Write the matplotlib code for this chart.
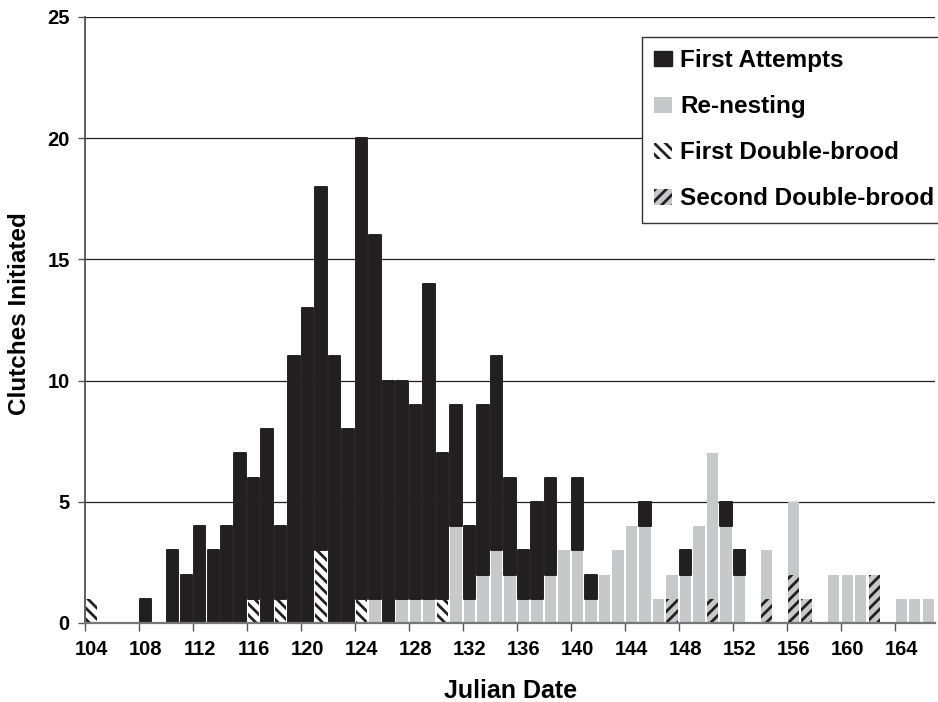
import matplotlib
matplotlib.use("Agg")
import matplotlib.pyplot as plt
from matplotlib.patches import Patch
import numpy as np

plt.rcParams['font.family'] = ['Liberation Sans', 'DejaVu Sans']
plt.rcParams['font.weight'] = 'bold'
plt.rcParams['hatch.linewidth'] = 2.0
plt.rcParams['hatch.color'] = '#231f20'

days = list(range(104, 167))
first_attempts = [0, 0, 0, 0, 1, 0, 3, 2, 4, 3, 4, 7, 5, 8, 3, 11, 13, 15, 11, 8,
                  19, 15, 10, 9, 8, 13, 6, 5, 3, 7, 8, 4, 2, 4, 4, 0, 3, 1, 0, 0,
                  0, 1, 0, 0, 1, 0, 0, 1, 1, 0, 0, 0, 0, 0, 0, 0, 0, 0, 0, 0,
                  0, 0, 0]
re_nesting = [0, 0, 0, 0, 0, 0, 0, 0, 0, 0, 0, 0, 0, 0, 0, 0, 0, 0, 0, 0,
              0, 1, 0, 1, 1, 1, 0, 4, 1, 2, 3, 2, 1, 1, 2, 3, 3, 1, 2, 3,
              4, 4, 1, 1, 2, 4, 6, 4, 2, 0, 2, 0, 3, 0, 0, 2, 2, 2, 0, 0,
              1, 1, 1]
first_double = [1, 0, 0, 0, 0, 0, 0, 0, 0, 0, 0, 0, 1, 0, 1, 0, 0, 3, 0, 0,
                1, 0, 0, 0, 0, 0, 1, 0, 0, 0, 0, 0, 0, 0, 0, 0, 0, 0, 0, 0,
                0, 0, 0, 0, 0, 0, 0, 0, 0, 0, 0, 0, 0, 0, 0, 0, 0, 0, 0, 0,
                0, 0, 0]
second_double = [0, 0, 0, 0, 0, 0, 0, 0, 0, 0, 0, 0, 0, 0, 0, 0, 0, 0, 0, 0,
                 0, 0, 0, 0, 0, 0, 0, 0, 0, 0, 0, 0, 0, 0, 0, 0, 0, 0, 0, 0,
                 0, 0, 0, 1, 0, 0, 1, 0, 0, 0, 1, 0, 2, 1, 0, 0, 0, 0, 2, 0,
                 0, 0, 0]
series_labels = ['First Attempts', 'Re-nesting', 'First Double-brood',
                 'Second Double-brood']
tick_days = list(range(104, 165, 4))
y_ticks = [0, 5, 10, 15, 20, 25]

BLACK = '#231f20'
GRAY = '#c7c8c9'
HATCH_FD = '\\\\\\'
HATCH_SD = '///'

fig = plt.figure(figsize=(9.38, 7.02), dpi=100)
ax = fig.add_axes([85/938, 1-623/702, 850/938, 606/702])

x = np.array(days, dtype=float)
fa = np.array(first_attempts, dtype=float)
rn = np.array(re_nesting, dtype=float)
fd = np.array(first_double, dtype=float)
sd = np.array(second_double, dtype=float)

w = 0.84
ax.set_axisbelow(True)
ax.grid(axis='y', color='#231f20', linewidth=0.9)

ax.bar(x, fd, width=w, color='white', hatch=HATCH_FD, edgecolor=BLACK, linewidth=0)
ax.bar(x, sd, width=w, bottom=fd, color=GRAY, hatch=HATCH_SD, edgecolor=BLACK, linewidth=0)
ax.bar(x, rn, width=w, bottom=fd+sd, color=GRAY, linewidth=0)
b4 = ax.bar(x, fa, width=w, bottom=fd+sd+rn, color=BLACK, edgecolor=BLACK,
            linewidth=1.4, joinstyle='round')
for p, v in zip(b4.patches, fa):
    if v == 0:
        p.set_visible(False)

ax.set_xlim(103.5, 166.5)
ax.set_ylim(0, 25)
ax.set_yticks(y_ticks)
ax.set_yticklabels([str(v) for v in y_ticks], fontsize=14.5, fontweight='bold')
ax.tick_params(axis='y', length=5, width=1, pad=6, color='#555555')

ax.set_xticks([d - 0.5 for d in tick_days])
ax.set_xticklabels([])
ax.set_xticks(tick_days, minor=True)
ax.set_xticklabels([str(d) for d in tick_days], minor=True, fontsize=14.5,
                   fontweight='bold')
ax.tick_params(axis='x', which='major', length=6, width=1, color='#555555')
ax.tick_params(axis='x', which='minor', length=0, pad=12)

for s in ['top', 'right']:
    ax.spines[s].set_visible(False)
ax.spines['left'].set_color('#444444')
ax.spines['left'].set_linewidth(1.2)
ax.spines['bottom'].set_color('#777777')
ax.spines['bottom'].set_linewidth(1.6)

fig.text(511/938, 1-691/702, 'Julian Date', ha='center', va='center',
         fontsize=18, fontweight='bold')
fig.text(20/938, 1-314/702, 'Clutches Initiated', ha='center', va='center',
         rotation=90, fontsize=17.5, fontweight='bold')

handles = [
    Patch(facecolor=BLACK, edgecolor=BLACK, linewidth=1.0, joinstyle='round'),
    Patch(facecolor=GRAY, edgecolor='none', linewidth=0),
    Patch(facecolor='white', edgecolor=BLACK, hatch=HATCH_FD, linewidth=0),
    Patch(facecolor=GRAY, edgecolor=BLACK, hatch=HATCH_SD, linewidth=0),
]
leg = fig.legend(handles=handles, labels=series_labels,
                 loc='upper left', bbox_to_anchor=(642/938, 1-37/702),
                 prop={'family': 'Liberation Sans', 'weight': 'bold', 'size': 17.5},
                 frameon=True, fancybox=False, shadow=False, framealpha=1,
                 edgecolor='#333333', handlelength=0.72, handleheight=0.62,
                 handletextpad=0.35, borderpad=0.5, labelspacing=0.95,
                 borderaxespad=0)
leg.get_frame().set_linewidth(1.0)

fig.savefig('out.png', dpi=100)
